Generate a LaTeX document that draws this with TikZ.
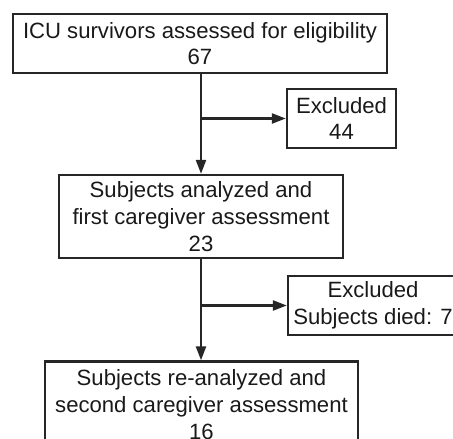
\documentclass[tikz,border=0pt]{standalone}
\usepackage{fontspec}
\setmainfont{Liberation Sans}
\usetikzlibrary{arrows.meta}
\begin{document}
\begin{tikzpicture}[x=1bp,y=-1bp,
  flowbox/.style={draw=black!85, line width=2.4bp, inner sep=0pt, align=center,
    font=\fontsize{22.2}{26.8}\selectfont, text=black!90},
  flowarrow/.style={draw=black!85, line width=2.4bp, -{Triangle[length=14bp,width=10bp]}}]
\useasboundingbox (0,0) rectangle (453,439);
\clip (0,0) rectangle (453,439);
\node[flowbox, minimum width=374bp, minimum height=59bp] (b1) at (200,43.5)
  {ICU survivors assessed for eligibility\\67};
\node[flowbox, minimum width=109bp, minimum height=59bp] (e1) at (341.5,118.5)
  {Excluded\\44};
\node[flowbox, minimum width=284bp, minimum height=83bp] (b2) at (201,216.5)
  {Subjects analyzed and\\first caregiver assessment\\23};
\node[flowbox, minimum width=170bp, minimum height=59bp] (e2) at (373,305.5)
  {Excluded\\Subjects died: 7};
\node[flowbox, minimum width=313bp, minimum height=86bp] (b3) at (201.5,404.5)
  {Subjects re-analyzed and\\second caregiver assessment\\16};
\coordinate (j1) at (b2.north |- e1.west);
\coordinate (j2) at (b2.south |- e2.west);
\draw[flowarrow] (b1.south -| b2.north) -- (b2.north);
\draw[flowarrow] (j1) -- (e1.west);
\draw[flowarrow] (b2.south) -- (b3.north -| b2.south);
\draw[flowarrow] (j2) -- (e2.west);
\end{tikzpicture}
\end{document}
